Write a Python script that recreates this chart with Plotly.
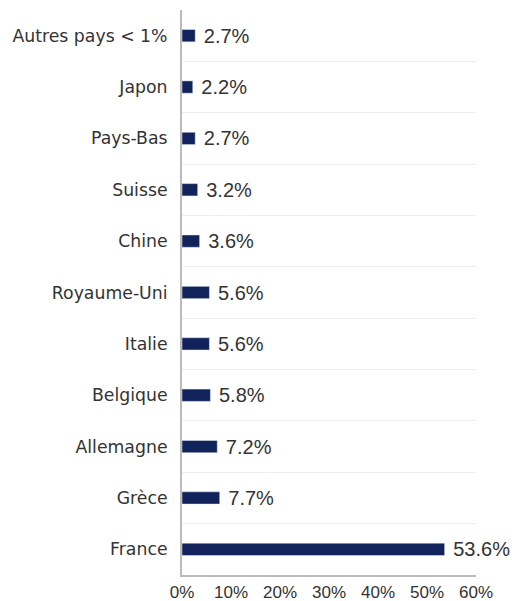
import plotly.graph_objects as go

countries = ["France", "Grèce", "Allemagne", "Belgique", "Italie", "Royaume-Uni",
             "Chine", "Suisse", "Pays-Bas", "Japon", "Autres pays < 1%"]
shares = [53.6, 7.7, 7.2, 5.8, 5.6, 5.6, 3.6, 3.2, 2.7, 2.2, 2.7]
x_ticks = [0, 10, 20, 30, 40, 50, 60]

pos = list(range(len(countries)))

fig = go.Figure(
    go.Bar(
        x=shares,
        y=pos,
        orientation="h",
        width=0.24,
        marker=dict(color="#12235c"),
        text=[f" {v:.1f}%" for v in shares],
        textposition="outside",
        constraintext="none",
        textfont=dict(family="Liberation Sans", size=20, color="#333333"),
        cliponaxis=False,
    )
)

fig.update_xaxes(
    range=[0, 60],
    tickvals=x_ticks,
    ticktext=[f"{t}%" for t in x_ticks],
    showgrid=False,
    showline=True,
    linecolor="#bbbbbb",
    linewidth=2,
    ticks="outside",
    ticklen=1,
    tickcolor="rgba(0,0,0,0)",
    tickfont=dict(family="Liberation Sans", size=17, color="#333333"),
    zeroline=False,
    automargin=False,
)
fig.update_yaxes(
    range=[-0.5, 10.5],
    tickvals=pos,
    ticktext=countries,
    showgrid=False,
    showline=True,
    linecolor="#bbbbbb",
    linewidth=2,
    ticks="outside",
    ticklen=9,
    tickcolor="rgba(0,0,0,0)",
    tickfont=dict(family="DejaVu Sans", size=17.3, color="#333333"),
    zeroline=False,
    automargin=False,
    minor=dict(
        tickvals=[i + 0.5 for i in range(10)],
        showgrid=True,
        gridcolor="#eeeeee",
        gridwidth=1,
    ),
)
fig.update_layout(
    width=512,
    height=601,
    margin=dict(l=182, r=36, t=10, b=26),
    plot_bgcolor="white",
    paper_bgcolor="white",
    font=dict(family="DejaVu Sans", color="#333333"),
    showlegend=False,
)

# drop the default body margin so the figure fills the window
fig.write_html(
    "out.html",
    config={"displayModeBar": False},
    post_script="document.body.style.margin = '0';",
)
